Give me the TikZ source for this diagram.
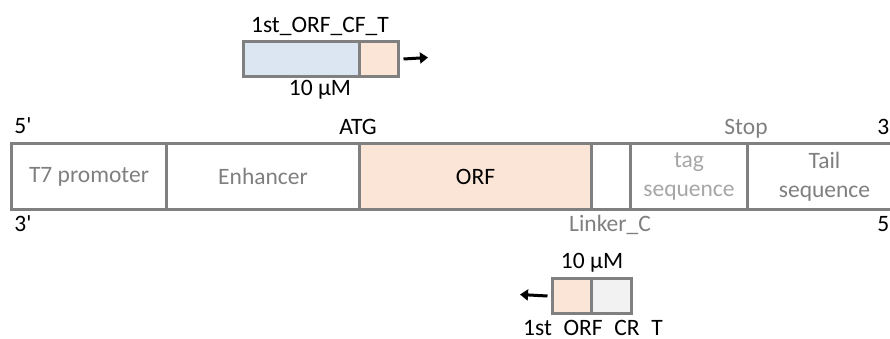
\documentclass[tikz,border=0pt]{standalone}
\usepackage{fontspec}
\setmainfont{Carlito}[Ligatures=TeXOff]
\usetikzlibrary{arrows.meta}
\definecolor{bordergray}{HTML}{808080}
\definecolor{txtgray}{HTML}{7F7F7F}
\definecolor{lightgray}{HTML}{A6A6A6}
\definecolor{peach}{HTML}{FBE5D6}
\definecolor{paleblue}{HTML}{DCE6F2}
\definecolor{palegray}{HTML}{F2F2F2}
\tikzset{
  seg/.style={draw=bordergray, line width=3pt, minimum height=66pt, inner sep=0pt, anchor=north west, align=center, font=\fontsize{23.5}{29}\selectfont},
  pbox/.style={draw=bordergray, line width=3pt, minimum height=35pt, inner sep=0pt, anchor=north west},
  lbl/.style={inner sep=0pt, anchor=base, font=\fontsize{23.5}{29}\selectfont},
  parrow/.style={-{Triangle[length=8pt,width=11pt]}, line width=3pt, black}
}
\begin{document}
\begin{tikzpicture}[x=1pt,y=-1pt]
\useasboundingbox (0,0) rectangle (890,338);
% main construct
\node[seg, minimum width=155pt, text=txtgray] (t7) at (10,142) {T7 promoter};
\node[seg, minimum width=193pt, text=txtgray] (enh) at (165,142) {Enhancer};
\node[seg, minimum width=232pt, fill=peach] (orf) at (358,142) {ORF};
\node[seg, minimum width=39pt] (lnk) at (590,142) {};
\node[seg, minimum width=117pt, text=lightgray] (tag) at (629,142) {tag\\sequence};
\node[seg, minimum width=154pt, text=txtgray] (tail) at (746,142) {Tail\\sequence};
% labels
\node[lbl] (p5) at (23,133) {5'};
\node[lbl] (atg) at (358,134) {ATG};
\node[lbl, text=txtgray] (stop) at (746,134) {Stop};
\node[lbl] (q3) at (886,134) {3'};
\node[lbl] (b3) at (23,231) {3'};
\node[lbl, text=txtgray] (linker) at (610,231) {Linker\_C};
\node[lbl] (b5) at (886,231) {5'};
% forward primer
\node[pbox, minimum width=116pt, fill=paleblue] (fblue) at (242,40) {};
\node[pbox, minimum width=39pt, fill=peach] (fpeach) at (358,40) {};
\node[lbl] (ftitle) at (320,32) {1st\_ORF\_CF\_T};
\node[lbl] (fconc) at (320,95) {10 µM};
\coordinate (fend) at (428,57.5);
\draw[parrow] ([xshift=3.5pt]fpeach.east) -- (fend);
% reverse primer
\node[pbox, minimum width=39pt, fill=peach] (rpeach) at (551,277) {};
\node[pbox, minimum width=40pt, fill=palegray] (rgray) at (590,277) {};
\node[lbl] (rconc) at (592,268) {10 µM};
\begin{scope}
\clip (0,0) rectangle (890,335.4);
\node[lbl] (rtitle) at (593,335) {1st\_ORF\_CR\_T};
\end{scope}
\coordinate (rend) at (520,294.5);
\draw[parrow] ([xshift=-3.5pt]rpeach.west) -- (rend);
\end{tikzpicture}
\end{document}
